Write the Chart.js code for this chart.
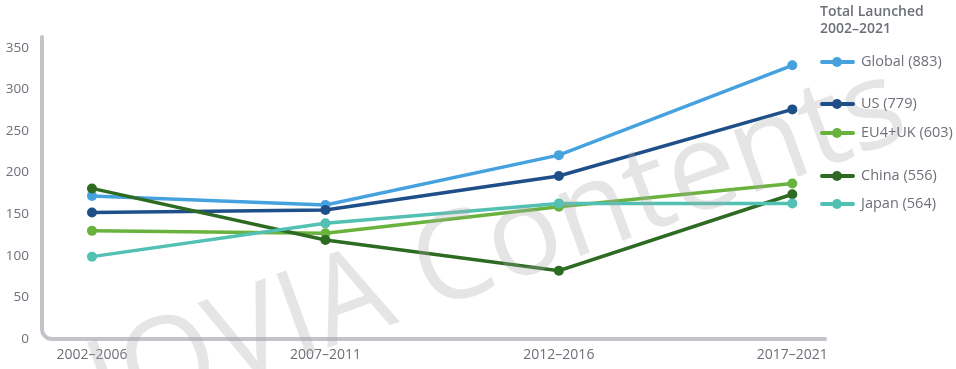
<!DOCTYPE html>
<html>
<head>
<meta charset="utf-8">
<script src="https://cdn.jsdelivr.net/npm/chart.js@4"></script>
<style>
    body { margin: 0; background: #fff; font-family: "Open Sans", sans-serif; }
    #wrap { position: relative; width: 956px; height: 369px; }
    #legend { position: absolute; left: 820px; top: 0; color: #6d7078; font-size: 14.5px; }
    #legend .title { position: absolute; left: 0; top: 2px; width: 140px; font-size: 14px; font-weight: 600; line-height: 17px; }
    #legend .item { position: absolute; left: 0; height: 16px; white-space: nowrap; }
    #legend .swatch { position: absolute; left: 0; top: 6px; width: 35px; height: 4px; border-radius: 2px; }
    #legend .dot { position: absolute; left: 12px; top: 3px; width: 10px; height: 10px; border-radius: 50%; }
    #legend .label { position: absolute; left: 41px; top: -3px; }
</style>
</head>
<body>
<div id="wrap">
    <canvas id="chart" width="956" height="369"></canvas>
    <div id="legend"></div>
</div>
<script>
const periods = ['2002–2006', '2007–2011', '2012–2016', '2017–2021']
const yTicks = [0, 50, 100, 150, 200, 250, 300, 350]

const globalVals = [172, 161, 221, 329]
const usVals = [152, 155, 196, 276]
const euVals = [130, 127, 159, 187]
const chinaVals = [181, 119, 82, 174]
const japanVals = [99, 139, 163, 163]

const seriesNames = ['Global (883)', 'US (779)', 'EU4+UK (603)', 'China (556)', 'Japan (564)']
const seriesColors = ['#46a2de', '#1f4f88', '#6ab23e', '#2d6b22', '#52c0b3']
const legendTops = [54, 96, 125, 168, 196]

const toPoints = vals => vals.map((v, i) => ({ x: i, y: v }))

// L-shaped axis with rounded corner + watermark
const axisPlugin = {
    id: 'axisLine',
    beforeDatasetsDraw(chart) {
        const { ctx, chartArea } = chart
        const r = 10
        ctx.save()
        ctx.strokeStyle = '#c2c4c9'
        ctx.lineWidth = 4
        ctx.lineCap = 'round'
        ctx.beginPath()
        ctx.moveTo(chartArea.left, chartArea.top)
        ctx.lineTo(chartArea.left, chartArea.bottom - r)
        ctx.arcTo(chartArea.left, chartArea.bottom, chartArea.left + r, chartArea.bottom, r)
        ctx.lineTo(chartArea.right, chartArea.bottom)
        ctx.stroke()
        ctx.restore()
    },
    afterDraw(chart) {
        const { ctx } = chart
        ctx.save()
        ctx.translate(509, 282)
        ctx.rotate(-20 * Math.PI / 180)
        ctx.font = '400 122px "Open Sans"'
        ctx.fillStyle = 'rgba(170,170,170,0.3)'
        ctx.textAlign = 'center'
        ctx.textBaseline = 'alphabetic'
        ctx.fillText('IQVIA Contents', 0, 0)
        ctx.restore()
    }
}

new Chart(document.getElementById('chart'), {
    type: 'line',
    data: {
        datasets: [globalVals, usVals, euVals, chinaVals, japanVals].map((vals, i) => ({
            label: seriesNames[i],
            data: toPoints(vals),
            borderColor: seriesColors[i],
            backgroundColor: seriesColors[i],
            borderWidth: 3.5,
            pointRadius: 5,
            pointBorderWidth: 0,
            tension: 0
        })).reverse()
    },
    options: {
        responsive: false,
        animation: false,
        layout: { padding: { top: 37, right: 131, left: 0, bottom: 0 } },
        plugins: { legend: { display: false }, tooltip: { enabled: false } },
        scales: {
            x: {
                type: 'linear',
                min: -0.214,
                max: 3.14,
                grid: { display: false, drawTicks: false },
                border: { display: false },
                afterBuildTicks: axis => { axis.ticks = periods.map((p, i) => ({ value: i })) },
                afterFit: axis => { axis.height = 30 },
                ticks: {
                    callback: v => periods[v],
                    color: '#6d7078',
                    font: { family: 'Open Sans', size: 14 },
                    padding: 8,
                    maxRotation: 0
                }
            },
            y: {
                min: 0,
                max: 363,
                grid: { display: false, drawTicks: false },
                border: { display: false },
                afterBuildTicks: axis => { axis.ticks = yTicks.map(v => ({ value: v })) },
                afterFit: axis => { axis.width = 42 },
                ticks: {
                    color: '#6b707a',
                    font: { family: 'Open Sans', size: 13.5 },
                    padding: 13
                }
            }
        }
    },
    plugins: [axisPlugin]
})

// html legend on the right
const legend = document.getElementById('legend')
legend.innerHTML = '<div class="title">Total Launched<br>2002–2021</div>' +
    seriesNames.map((name, i) =>
        `<div class="item" style="top:${legendTops[i]}px">` +
        `<div class="swatch" style="background:${seriesColors[i]}"></div>` +
        `<div class="dot" style="background:${seriesColors[i]}"></div>` +
        `<div class="label">${name}</div></div>`
    ).join('')
</script>
</body>
</html>
